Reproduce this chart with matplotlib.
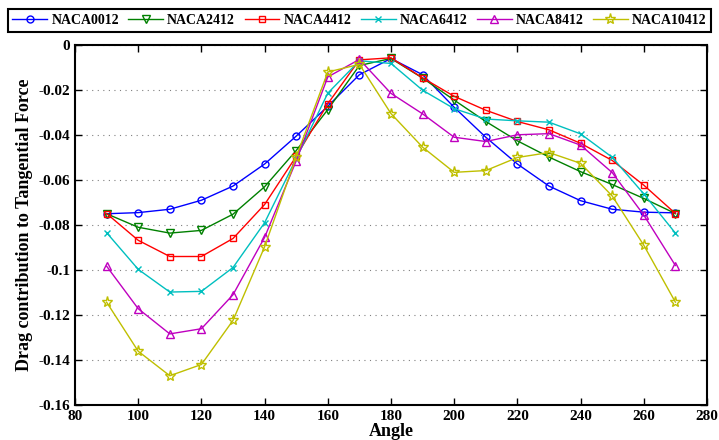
import matplotlib
matplotlib.use('Agg')
import matplotlib.pyplot as plt
from matplotlib.ticker import FuncFormatter

plt.rcParams['font.family'] = ['Liberation Serif', 'DejaVu Serif']
plt.rcParams['font.weight'] = 'bold'
plt.rcParams['axes.unicode_minus'] = False

angle = [90, 100, 110, 120, 130, 140, 150, 160, 170, 180,
         190, 200, 210, 220, 230, 240, 250, 260, 270]

naca0012 = [-0.0750, -0.0745, -0.0730, -0.0690, -0.0627, -0.0529, -0.0405, -0.0272, -0.0132, -0.0060,
            -0.0132, -0.0277, -0.0410, -0.0529, -0.0627, -0.0692, -0.0730, -0.0743, -0.0746]
naca2412 = [-0.0750, -0.0810, -0.0836, -0.0824, -0.0752, -0.0630, -0.0469, -0.0287, -0.0091, -0.0060,
            -0.0147, -0.0245, -0.0340, -0.0426, -0.0498, -0.0563, -0.0620, -0.0682, -0.0749]
naca4412 = [-0.0749, -0.0868, -0.0940, -0.0940, -0.0860, -0.0709, -0.0495, -0.0261, -0.0066, -0.0057,
            -0.0146, -0.0228, -0.0290, -0.0340, -0.0377, -0.0437, -0.0513, -0.0623, -0.0749]
naca6412 = [-0.0834, -0.0997, -0.1098, -0.1095, -0.0989, -0.0790, -0.0505, -0.0214, -0.0070, -0.0082,
            -0.0201, -0.0283, -0.0329, -0.0337, -0.0343, -0.0395, -0.0499, -0.0662, -0.0836]
naca8412 = [-0.0983, -0.1172, -0.1284, -0.1261, -0.1110, -0.0855, -0.0515, -0.0142, -0.0064, -0.0215,
            -0.0306, -0.0410, -0.0429, -0.0399, -0.0394, -0.0445, -0.0567, -0.0756, -0.0980]
naca10412 = [-0.1143, -0.1361, -0.1470, -0.1420, -0.1224, -0.0897, -0.0498, -0.0120, -0.0086, -0.0305,
             -0.0454, -0.0566, -0.0558, -0.0500, -0.0478, -0.0526, -0.0671, -0.0890, -0.1143]

series = [
    ('NACA0012', naca0012, (0, 0, 1), 'o', 5),
    ('NACA2412', naca2412, (0, 0.5, 0), 'v', 6),
    ('NACA4412', naca4412, (1, 0, 0), 's', 5),
    ('NACA6412', naca6412, (0, 0.75, 0.75), 'x', 5),
    ('NACA8412', naca8412, (0.75, 0, 0.75), '^', 6),
    ('NACA10412', naca10412, (0.75, 0.75, 0), '*', 8),
]

fig = plt.figure(figsize=(7.19, 4.40), dpi=100)
ax = fig.add_axes([75 / 719, 1 - 405 / 440, 632 / 719, 360 / 440])

for name, vals, col, mk, ms in series:
    ax.plot(angle, vals, color=col, marker=mk, markersize=ms, markerfacecolor='none',
            markeredgecolor=col, markeredgewidth=1.0, linewidth=1.0, label=name)

ax.set_xlim(80, 280)
ax.set_ylim(-0.16, 0)
ax.set_xticks(range(80, 281, 20))
ax.set_yticks([-0.16, -0.14, -0.12, -0.1, -0.08, -0.06, -0.04, -0.02, 0])
ax.yaxis.set_major_formatter(FuncFormatter(lambda v, p: '%g' % round(v, 2)))
ax.tick_params(direction='in', top=True, right=True, labelsize=11, length=5, width=1)
for lab in ax.get_xticklabels() + ax.get_yticklabels():
    lab.set_fontweight('bold')
for sp in ax.spines.values():
    sp.set_linewidth(1.5)
ax.yaxis.grid(True, linestyle=(0, (1, 4)), color='gray', linewidth=0.8)

ax.set_xlabel('Angle', fontsize=13, fontweight='bold', labelpad=0)
ax.set_ylabel('Drag contribution to Tangential Force', fontsize=13, fontweight='bold', labelpad=4)

leg = fig.legend(loc='upper center', bbox_to_anchor=(0.5, 1 - 5 / 440), ncol=6,
                 fancybox=False, edgecolor='black', framealpha=1,
                 handlelength=2.5, columnspacing=0.68, handletextpad=0.3,
                 borderpad=0.35, borderaxespad=0.3, prop={'weight': 'bold', 'size': 10})
leg.get_frame().set_linewidth(1.5)

fig.savefig('out.png', dpi=100)
